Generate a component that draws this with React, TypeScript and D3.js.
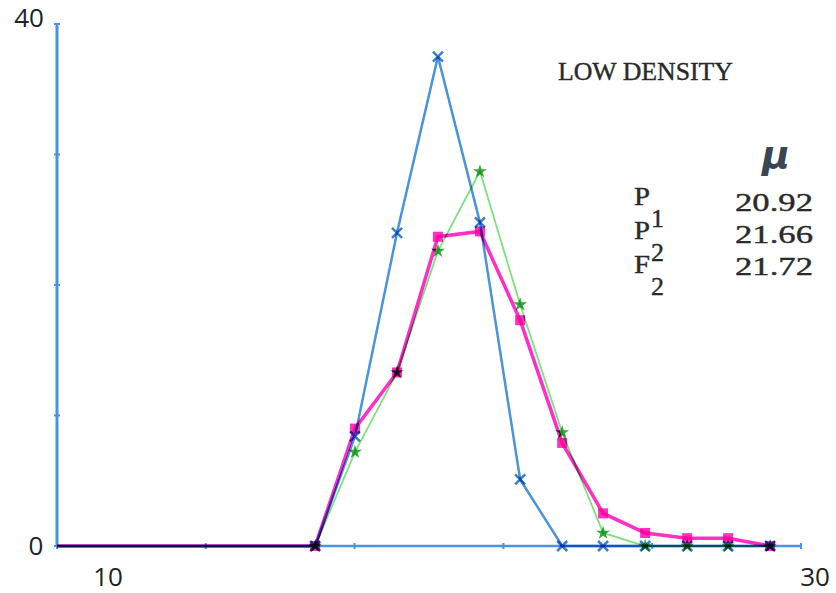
import React from "react";
import * as d3 from "d3";

// x positions of the frequency classes, read in axis units (axis labelled 10 … 30)
const xValues = [10, 16.94, 18.01, 19.14, 20.24, 21.37, 22.45, 23.58, 24.68, 25.81, 26.94, 28.04, 29.17];
// P1 (blue, x marks)
const p1Values = [0, 0, 8.4, 24.0, 37.5, 24.8, 5.1, 0, 0, 0, 0, 0, 0];
// P2 (magenta, squares)
const p2Values = [0, 0, 9.0, 13.3, 23.7, 24.1, 17.3, 7.9, 2.5, 1.0, 0.6, 0.6, 0];
// F2 (green, stars)
const f2Values = [0, 0, 7.2, 13.3, 22.6, 28.7, 18.5, 8.7, 1.0, 0, 0, 0, 0];

const yTicks = [0, 10, 20, 30, 40];
const xTicks = [10, 14, 18, 22, 26, 30];
const yTickLabels = ["0", "40"];
const xTickLabels = ["10", "30"];

const legendNames = ["P", "P", "F"];
const legendSubs = ["1", "2", "2"];
const legendMeans = ["20.92", "21.66", "21.72"];
const title = "LOW DENSITY";

const W = 836, H = 593;
const x = d3.scaleLinear().domain([10, 30]).range([57, 801]);
const y = d3.scaleLinear().domain([0, 40]).range([546, 24]);

const BLUE = "#4b93dc";
const MAG = "#ff2ec4";
const GREEN = "#7ee07e";

type Pt = [number, number];
const pts = (vals: number[]): Pt[] => vals.map((v, i) => [xValues[i], v]);
const line = d3.line<Pt>().x(d => x(d[0])).y(d => y(d[1]));

export default function App() {
  const p1 = pts(p1Values);
  const p2 = pts(p2Values);
  const f2 = pts(f2Values);
  const star = d3.symbol().type(d3.symbolStar).size(60)();
  const typewriter = "'Liberation Serif', 'DejaVu Serif', serif";
  return (
    <svg width={W} height={H} style={{ position: "absolute", left: 0, top: 0, background: "#fff" }}>
      <rect width={W} height={H} fill="#fff" />
      <g style={{ isolation: "isolate" }}>
        {/* axes */}
        <line x1={x(10)} x2={x(30)} y1={y(0)} y2={y(0)} stroke={BLUE} strokeWidth={2.5} />
        <line x1={x(10)} x2={x(10)} y1={y(0)} y2={y(40)} stroke={BLUE} strokeWidth={3} />
        {yTicks.map(t => (
          <line key={"yt" + t} x1={x(10) - 3} x2={x(10) + 3} y1={y(t)} y2={y(t)} stroke={BLUE} strokeWidth={2} />
        ))}
        {xTicks.map(t => (
          <line key={"xt" + t} x1={x(t)} x2={x(t)} y1={y(0) - 3} y2={y(0) + 3} stroke={BLUE} strokeWidth={2} />
        ))}
        {/* series */}
        <path d={line(p1) || ""} fill="none" stroke={BLUE} strokeWidth={2.5} style={{ mixBlendMode: "multiply" }} />
        <path d={line(f2) || ""} fill="none" stroke={GREEN} strokeWidth={1.8} style={{ mixBlendMode: "multiply" }} />
        <path d={line(p2) || ""} fill="none" stroke={MAG} strokeWidth={3.5} style={{ mixBlendMode: "multiply" }} />
        {p1.slice(1).map((d, i) => (
          <g key={"p1" + i} transform={`translate(${x(d[0])},${y(d[1])})`} style={{ mixBlendMode: "multiply" }}>
            <path d="M-5,-5L5,5M-5,5L5,-5" stroke="#3a7fd0" strokeWidth={2.5} />
          </g>
        ))}
        {f2.slice(1).map((d, i) => (
          <path key={"f2" + i} d={star || ""} transform={`translate(${x(d[0])},${y(d[1])})`} fill="#35a83a" style={{ mixBlendMode: "multiply" }} />
        ))}
        {p2.slice(1).map((d, i) => (
          <rect key={"p2" + i} x={x(d[0]) - 5} y={y(d[1]) - 5} width={10} height={10} fill={MAG} style={{ mixBlendMode: "multiply" }} />
        ))}
      </g>
      {/* axis labels */}
      <g fontFamily="'Open Sans', 'DejaVu Sans', sans-serif" fontSize={26} fill="#222">
        <text x={x(10) - 21} y={y(0)} dy="0.35em" textAnchor="middle">{yTickLabels[0]}</text>
        <text x={x(10) - 28} y={y(40)} dy="0.1em" textAnchor="middle">{yTickLabels[1]}</text>
        <text x={x(10) + 51} y={y(0) + 40} textAnchor="middle">{xTickLabels[0]}</text>
        <text x={x(30) + 14} y={y(0) + 40} textAnchor="middle">{xTickLabels[1]}</text>
      </g>
      {/* annotation */}
      <g fontFamily={typewriter} fontSize={26} fill="#2a2a2a" stroke="#2a2a2a" strokeWidth={0.4}>
        <text x={558} y={80} textLength={175} lengthAdjust="spacingAndGlyphs">{title}</text>
        <text x={762} y={168} fontFamily="'DejaVu Sans', sans-serif" fontWeight="bold" fontStyle="italic" fontSize={38} fill="#3a4654" stroke="none">μ</text>
        {legendNames.map((n, i) => (
          <g key={"lg" + i}>
            <text x={634} y={205 + i * 34} textLength={16} lengthAdjust="spacingAndGlyphs">{n}</text>
            <text x={651} y={227 + i * 34}>{legendSubs[i]}</text>
            <text x={735} y={211 + i * 32} textLength={78} lengthAdjust="spacingAndGlyphs">{legendMeans[i]}</text>
          </g>
        ))}
      </g>
    </svg>
  );
}
